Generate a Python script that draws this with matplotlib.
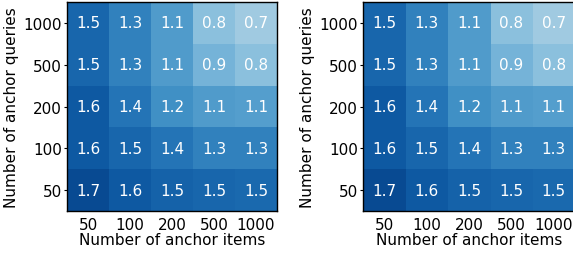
import matplotlib
matplotlib.use("Agg")
import matplotlib.pyplot as plt
import numpy as np

items = ["50", "100", "200", "500", "1000"]
queries = ["1000", "500", "200", "100", "50"]  # top to bottom

values_left = [
    [1.50, 1.30, 1.10, 0.80, 0.70],
    [1.50, 1.30, 1.10, 0.90, 0.80],
    [1.60, 1.40, 1.20, 1.10, 1.08],
    [1.60, 1.50, 1.40, 1.30, 1.30],
    [1.70, 1.60, 1.53, 1.50, 1.48],
]
values_right = [
    [1.50, 1.30, 1.10, 0.80, 0.70],
    [1.50, 1.30, 1.10, 0.90, 0.80],
    [1.60, 1.40, 1.20, 1.10, 1.08],
    [1.60, 1.50, 1.40, 1.30, 1.30],
    [1.70, 1.60, 1.53, 1.50, 1.48],
]

plt.rcParams['font.family'] = ['DejaVu Sans']
W, H = 573, 255
fig = plt.figure(figsize=(W / 100, H / 100), dpi=100)

def draw(ax, vals):
    v = np.array(vals)
    ax.imshow(v, cmap="Blues", vmin=0, vmax=1.9, aspect="auto")
    for i in range(v.shape[0]):
        for j in range(v.shape[1]):
            ax.text(j, i, f"{v[i, j]:.1f}", ha="center", va="center",
                    color="white", fontsize=11)
    ax.set_xticks(range(len(items)))
    ax.set_xticklabels(items, fontsize=11)
    ax.set_yticks(range(len(queries)))
    ax.set_yticklabels(queries, fontsize=11)
    ax.tick_params(axis="x", length=0, pad=4)
    ax.tick_params(axis="y", length=2.5, pad=1)
    ax.set_xlabel("Number of anchor items", fontsize=11, labelpad=0)
    ax.set_ylabel("Number of anchor queries", fontsize=11, labelpad=3)
    for s in ax.spines.values():
        s.set_linewidth(1.0)

ax1 = fig.add_axes([67 / W, 43 / H, 210 / W, 209 / H])
ax2 = fig.add_axes([363 / W, 43 / H, 212 / W, 209 / H])
draw(ax1, values_left)
draw(ax2, values_right)

fig.savefig("out.png", dpi=100)
